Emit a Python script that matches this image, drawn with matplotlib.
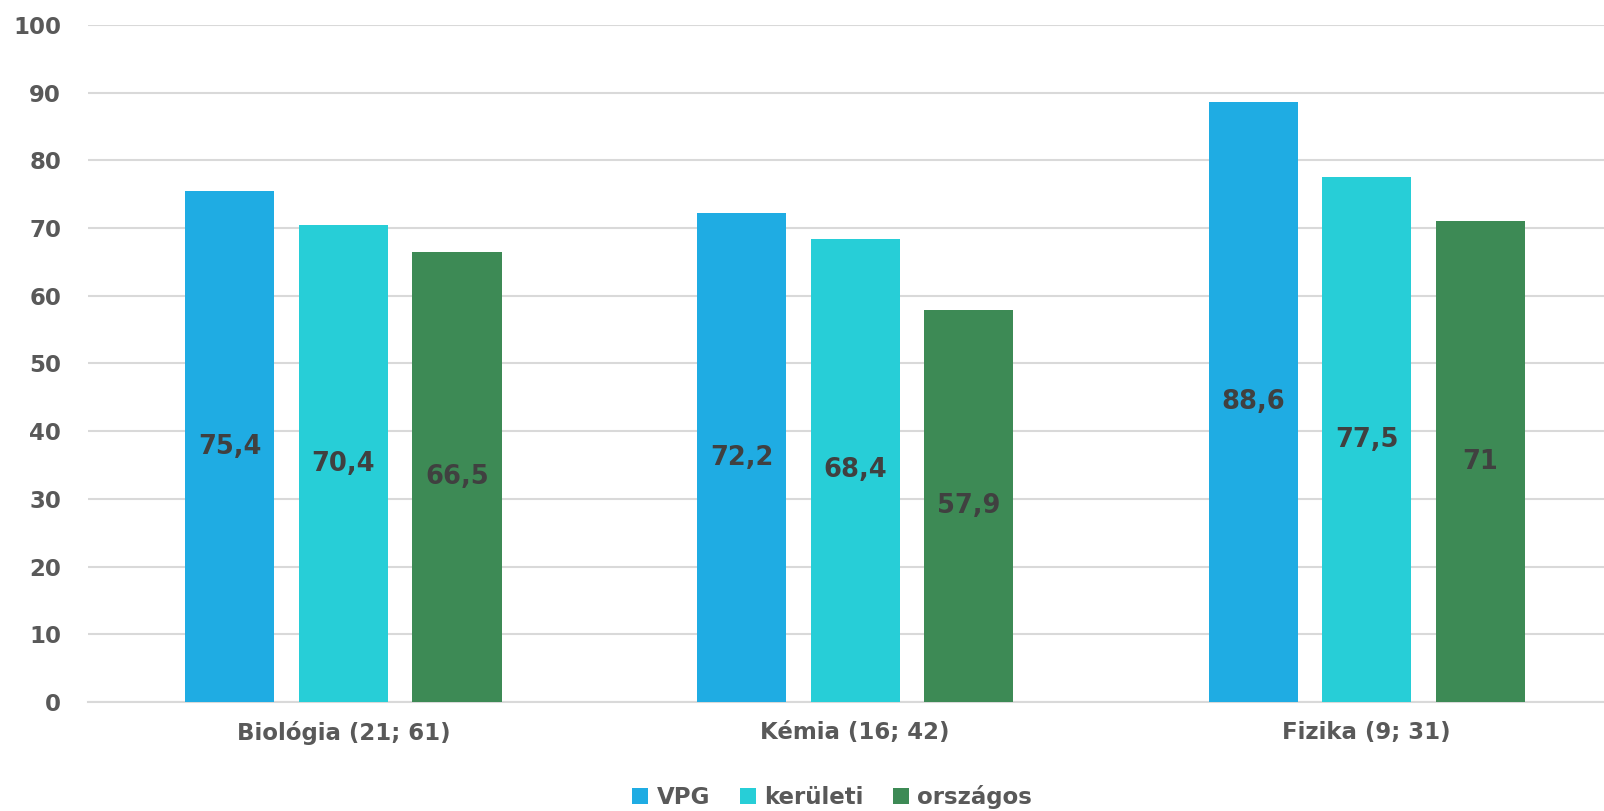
import numpy as np
import matplotlib.pyplot as plt

kategoriak = ["Biológia (21; 61)", "Kémia (16; 42)", "Fizika (9; 31)"]
vpg = [75.4, 72.2, 88.6]
keruleti = [70.4, 68.4, 77.5]
orszagos = [66.5, 57.9, 71]
sorozatok = ["VPG", "kerületi", "országos"]
szinek = ["#1FACE3", "#27CED7", "#3D8A55"]

plt.rcParams['font.family'] = ['DejaVu Sans']
plt.rcParams['font.weight'] = 'bold'

fig = plt.figure(figsize=(16.04, 8.11), dpi=100)
# a diagram jobb szele kicsit kilog a kepbol, mint az eredetin
ax = fig.add_axes([0.0546, 0.1344, 0.957, 0.835])

x = np.arange(len(kategoriak))
w = 0.174
lep = 0.222

for i, (adat, nev, szin) in enumerate(zip([vpg, keruleti, orszagos], sorozatok, szinek)):
    poz = x + (i - 1) * lep
    ax.bar(poz, adat, w, color=szin, label=nev, zorder=3)
    for p, v in zip(poz, adat):
        szoveg = ("%g" % v).replace(".", ",")
        ax.text(p, v / 2, szoveg, ha='center', va='center', fontsize=18.5,
                fontweight='bold', color='#404040', zorder=4)

ax.set_xlim(-0.5, 2.5)
ax.set_ylim(0, 100)
ax.set_yticks(range(0, 101, 10))
ax.set_xticks(x)
ax.set_xticklabels(kategoriak)
ax.grid(axis='y', color='#D9D9D9', linewidth=1.5, zorder=0)
ax.tick_params(axis='both', length=0, labelsize=16.5, labelcolor='#595959')
ax.tick_params(axis='y', pad=19)
ax.tick_params(axis='x', pad=14)
for s in ['top', 'right', 'left']:
    ax.spines[s].set_visible(False)
ax.spines['bottom'].set_color('#D9D9D9')
ax.spines['bottom'].set_linewidth(1.5)

ax.legend(loc='upper center', bbox_to_anchor=(0.485, -0.092), ncol=3, frameon=False,
          fontsize=16.5, labelcolor='#595959', handlelength=0.7, handleheight=0.7,
          handletextpad=0.35, columnspacing=1.3)

fig.savefig("out.png", dpi=100)
